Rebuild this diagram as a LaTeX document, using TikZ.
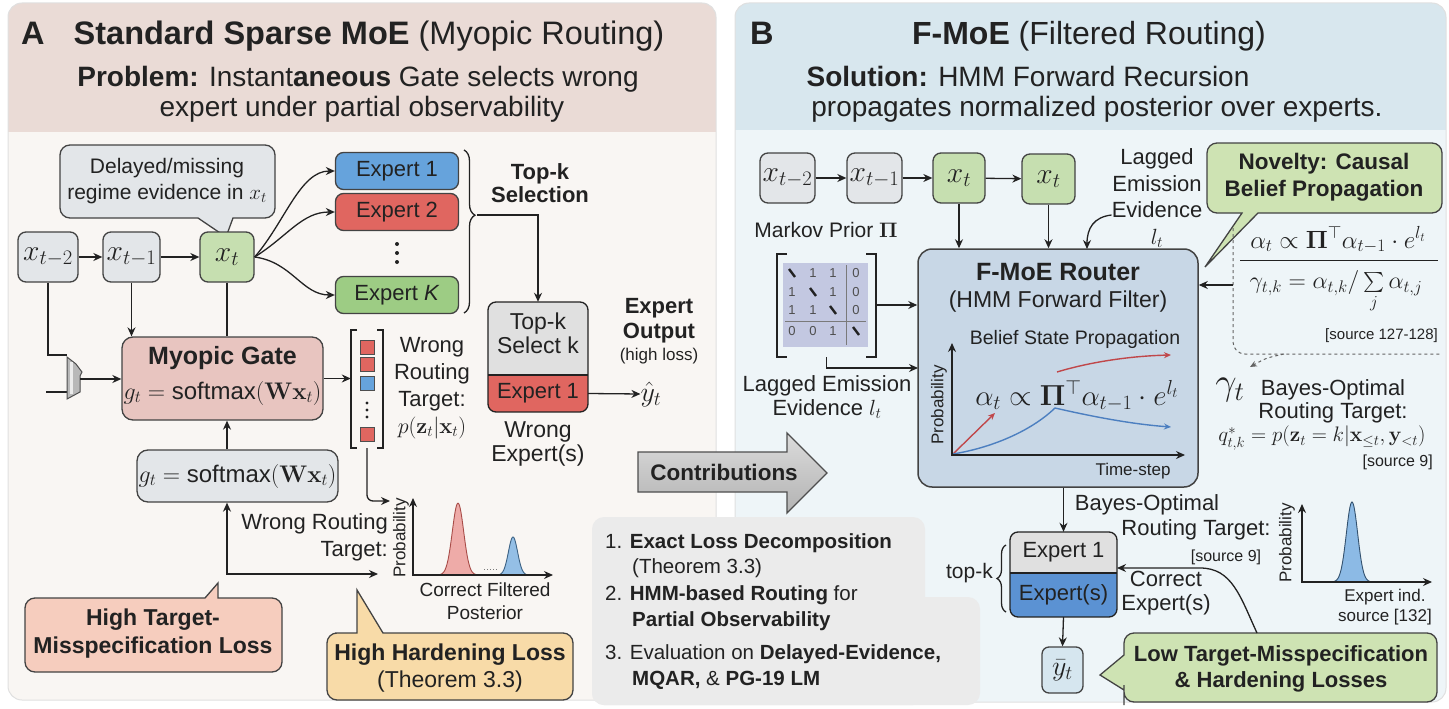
\RequirePackage{fix-cm}
\documentclass[tikz,border=0pt]{standalone}
\usepackage[no-math]{fontspec}
\setmainfont{Liberation Sans}
\usetikzlibrary{arrows.meta,decorations.pathreplacing}

\definecolor{hdrA}{HTML}{EADBD6}
\definecolor{bodyA}{HTML}{F9F6F3}
\definecolor{hdrB}{HTML}{D8E7EE}
\definecolor{bodyB}{HTML}{EEF5F8}
\definecolor{ink}{HTML}{222222}
\definecolor{boxgray}{HTML}{E3E6E9}
\definecolor{xgreen}{HTML}{C6DFB0}
\definecolor{e1blue}{HTML}{66A3DC}
\definecolor{e2red}{HTML}{E06660}
\definecolor{ekgreen}{HTML}{9DCC84}
\definecolor{gatepink}{HTML}{E8C5C0}
\definecolor{peach}{HTML}{F6CDBE}
\definecolor{sand}{HTML}{F8DBA8}
\definecolor{leaf}{HTML}{CEE3B3}
\definecolor{routerfill}{HTML}{C8D7E6}
\definecolor{matfill}{HTML}{C3C8E1}
\definecolor{expblue}{HTML}{5B92D3}
\definecolor{ybarfill}{HTML}{D6E6EF}
\definecolor{listgray}{HTML}{EBEBEB}
\definecolor{plotred}{HTML}{C0474A}
\definecolor{plotblue}{HTML}{4C7FC0}

\newcommand{\fsz}[2]{\fontsize{#1pt}{#2pt}\selectfont}
\newcommand{\bigsum}{\mathop{\raisebox{-6pt}{\scalebox{2.0}{$\sum$}}}\limits}

\tikzset{
  tip/.tip={Stealth[length=9pt,width=8pt]},
  arr/.style={-tip, line width=1.3pt, draw=ink},
  arrboth/.style={tip-tip, line width=1.3pt, draw=ink},
  ln/.style={line width=1.3pt, draw=ink},
  box/.style={draw=ink!85, line width=1.3pt, rounded corners=8pt, inner sep=0pt, align=center, text=ink},
  xbox/.style={box, fill=boxgray, minimum height=50pt, font=\fsz{29.5}{30}},
  xgbox/.style={xbox, fill=xgreen},
  expert/.style={box, minimum width=123pt, minimum height=37pt, font=\fsz{22}{24}},
  txt/.style={inner sep=0pt, align=center, text=ink, font=\fsz{22}{26}},
  callout/.style={draw=ink!85, line width=1.3pt},
  smallarr/.style={-{Stealth[length=7pt,width=6pt]}, line width=1.4pt},
}

\begin{document}
\begin{tikzpicture}[x=1pt,y=-1pt]
\useasboundingbox (0,0) rectangle (1449,709);
\fill[white] (0,0) rectangle (1449,709);

% ---------- panel backgrounds ----------
\begin{scope}
  \clip[rounded corners=14pt] (8,3) rectangle (716,700);
  \fill[bodyA] (8,3) rectangle (716,700);
  \fill[hdrA] (8,3) rectangle (716,132);
\end{scope}
\draw[black!12, line width=1pt, rounded corners=14pt] (8,3) rectangle (716,700);
\begin{scope}
  \clip[rounded corners=14pt] (735,3) rectangle (1446,702);
  \fill[bodyB] (735,3) rectangle (1446,702);
  \fill[hdrB] (735,3) rectangle (1446,130);
\end{scope}
\draw[black!12, line width=1pt, rounded corners=14pt] (735,3) rectangle (1446,702);

% ---------- headers ----------
\node[txt, font={\fsz{32.5}{34}\bfseries}, anchor=base west] (lblA) at (21,45) {A};
\node[txt, font=\fsz{32.5}{34}, anchor=base] (ttlA) at (369,45) {\textbf{Standard Sparse MoE} (Myopic Routing)};
\node[txt, font=\fsz{28}{30}, anchor=base] (subA1) at (358,87) {\textbf{Problem:} Instant\textbf{aneous} Gate selects wrong};
\node[txt, font=\fsz{28}{30}, anchor=base] (subA2) at (362,116) {expert under partial observability};

\node[txt, font={\fsz{32.5}{34}\bfseries}, anchor=base west] (lblB) at (750,45) {B};
\node[txt, font=\fsz{32}{34}, anchor=base] (ttlB) at (1089,45) {\textbf{F-MoE} (Filtered Routing)};
\node[txt, font=\fsz{28}{30}, anchor=base] (subB1) at (1028,86) {\textbf{Solution:} HMM Forward Recursion};
\node[txt, font=\fsz{28}{30}, anchor=base] (subB2) at (1097,116) {propagates normalized posterior over experts.};

% ================= PANEL A =================
% evidence callout
\filldraw[fill=boxgray, callout] (60,180) [rounded corners=10pt] -- (60,145) -- (275,145) -- (275,218) -- (245,218) [sharp corners] -- (233,218) -- (226,237) -- (198,218) -- (185,218) [rounded corners=10pt] -- (60,218) -- cycle;
\node[txt, font=\fsz{21}{26}] (evid) at (167,181) {Delayed/missing\\regime evidence in $x_t$};

% input sequence
\node[xbox, minimum width=60pt] (xa2) at (48,257) {$x_{t-2}$};
\node[xbox, minimum width=57pt] (xa1) at (131.5,257) {$x_{t-1}$};
\node[xgbox, minimum width=54pt] (xa0) at (227,257) {$x_t$};
\draw[arr] (xa2) -- (xa1);
\draw[arr] (xa1) -- (xa0);

% experts
\node[expert, fill=e1blue] (e1) at (397,171) {Expert 1};
\node[expert, fill=e2red] (e2) at (397,212) {Expert 2};
\node[expert, fill=ekgreen] (ek) at (397,295) {Expert \textit{K}};
\foreach \yy in {244,253,262} \fill[ink] (397,\yy) circle (2pt);
\draw[arr] (xa0.east) .. controls (285,222) and (300,171) .. (e1.west);
\draw[arr] (xa0.east) .. controls (288,236) and (302,212) .. (e2.west);
\draw[arr] (xa0.east) .. controls (292,262) and (302,295) .. (ek.west);

% top-k selection
\draw[ln, decorate, decoration={brace, amplitude=11pt, aspect=0.4}] (464,150) -- (464,313);
\coordinate (braceTip) at (477,215);
\node[txt, font={\fsz{22}{23}\bfseries}] (topsel) at (540,183) {Top-k\\Selection};
\begin{scope}
  \clip[rounded corners=8pt] (488,302) rectangle (588,412);
  \fill[black!12] (488,302) rectangle (588,375);
  \fill[e2red] (488,375) rectangle (588,412);
\end{scope}
\draw[ln, rounded corners=8pt] (488,302) rectangle (588,412);
\draw[ln] (488,375) -- (588,375);
\node[inner sep=0pt, minimum width=100pt, minimum height=73pt] (topk) at (538,338.5) {};
\node[txt, font=\fsz{23}{24}] (topkT) at (538,333) {Top-k\\Select k};
\node[txt, minimum width=100pt, minimum height=37pt, font=\fsz{22}{24}] (topkE) at (538,393.5) {Expert 1};
\draw[arr] (braceTip) -| (topk.north);
\node[txt, font=\fsz{23}{24}] (wrongE) at (538,444) {Wrong\\Expert(s)};

\node[txt, font={\fsz{22}{25}\bfseries}] (eout) at (659,321) {Expert\\Output};
\node[txt, font=\fsz{17}{18}] (hloss) at (659,356) {(high loss)};
\node[txt, font=\fsz{28}{28}] (yhat) at (651,394) {$\hat{y}_t$};
\draw[arr] (topkE.east) -- (yhat.west);

% myopic gate
\node[box, fill=gatepink, minimum width=201pt, minimum height=83pt, rounded corners=11pt] (gate) at (222.5,378.5) {};
\node[txt, font={\fsz{25}{26}\bfseries}] (gateT) at (222.5,358) {Myopic Gate};
\node[txt, font=\fsz{24}{26}] (gateF) at (222.5,393) {$g_t = \mbox{softmax}(\mathbf{W}\mathbf{x}_t)$};
\draw[arr] (xa1.south) -- (xa1.south |- gate.north);
\draw[ln] (xa0.south) -- (xa0.south |- gate.north);

% merge element
\coordinate (muxin) at (67,355);
\coordinate (muxlow) at (67,392);
\coordinate (gin) at (46,392);
\coordinate (muxout) at (80,379);
\draw[ln] (xa2.south) |- (muxin);
\draw[ln] (gin) -- (muxlow);
\filldraw[fill=black!28, draw=ink!80, line width=1pt] (67,357) -- (76,364) -- (82,372) -- (80,376) -- (80,392) -- (67,399) -- cycle;
\fill[black!8] (70,362) rectangle (73,394);
\draw[arr] (muxout) -- (muxout -| gate.west);

% routing vector
\node[inner sep=0pt, minimum width=32pt, minimum height=118pt] (vec) at (367,389) {};
\draw[ln] (357,330) -- (351,330) -- (351,448) -- (357,448);
\draw[ln] (377,330) -- (383,330) -- (383,448) -- (377,448);
\foreach \yy/\cc in {347/e2red,364/e2red,383/e1blue,434/e2red}
  \filldraw[fill=\cc, draw=ink!80, line width=0.8pt] (360,{\yy-7}) rectangle (374,{\yy+7});
\foreach \yy in {403,410,417} \fill[ink] (367,\yy) circle (1.6pt);
\draw[arr] (gate.east) -- (gate.east -| vec.west);
\node[txt, font=\fsz{22}{27}] (wrt) at (432,388) {Wrong\\Routing\\Target:\\$p(\mathbf{z}_t|\mathbf{x}_t)$};

% softmax box and lower loop
\node[box, fill=boxgray, minimum width=201pt, minimum height=52pt, rounded corners=11pt, font=\fsz{24}{26}] (soft) at (237.5,476) {$g_t = \mbox{softmax}(\mathbf{W}\mathbf{x}_t)$};
\draw[arr] (soft.north -| xa0.south) -- (gate.south -| xa0.south);
\coordinate (plotAin2) at (378,574);
\draw[arrboth] (soft.south -| xa0.south) |- (plotAin2);
\node[txt, font=\fsz{22}{27}, align=right, anchor=east] (wrt2) at (388,537) {Wrong Routing\\Target:};

\coordinate (plotAin) at (390,501);
\draw[arr, rounded corners=6pt] (vec.south) |- (plotAin);

% posterior plot A
\filldraw[fill=e2red!55, draw=e2red!75!black, line width=0.9pt] plot[domain=432:484, samples=60] (\x,{575-72*exp(-1*((\x-458)/8)*((\x-458)/8))}) -- cycle;
\filldraw[fill=e1blue!70, draw=e1blue!60!black, line width=0.9pt] plot[domain=496:530, samples=50] (\x,{575-38*exp(-1*((\x-513)/6.5)*((\x-513)/6.5))}) -- cycle;
\draw[dotted, ink!60, line width=1pt] (484,569) -- (498,569);
\draw[arrboth, line width=1.2pt] (413,498) -- (413,575) -- (553,575);
\node[txt, rotate=90, font=\fsz{17}{18}] (probA) at (401,538) {Probability};
\node[txt, font=\fsz{19}{23}] (postA) at (485,601) {Correct Filtered\\Posterior};

% loss callouts
\filldraw[fill=peach, callout] (25,635) [rounded corners=10pt] -- (25,598) -- (190,598) [sharp corners] -- (205,598) -- (218,583) -- (218,598) -- (230,598) [rounded corners=10pt] -- (282,598) -- (282,672) -- (25,672) -- cycle;
\node[txt, font={\fsz{23}{28}\bfseries}] (hmis) at (153,634) {High Target-\\Misspecification Loss};

\filldraw[fill=sand, callout] (327,665) [rounded corners=10pt] -- (327,633) -- (345,633) [sharp corners] -- (357,633) -- (357,590) -- (383,633) -- (395,633) [rounded corners=10pt] -- (573,633) -- (573,700) -- (327,700) -- cycle;
\node[txt, font=\fsz{23}{27}] (hhard) at (450,668) {\textbf{High Hardening Loss}\\(Theorem 3.3)};

% ================= contributions =================
\fill[listgray, rounded corners=12pt] (592,517) rectangle (925,705);
\fill[listgray, rounded corners=12pt] (592,597) rectangle (980,705);
\node[txt, anchor=west, font=\fsz{20.5}{22}] (c1) at (605,543) {1. \textbf{Exact Loss Decomposition}};
\node[txt, anchor=west, font=\fsz{20.5}{22}] (c1b) at (632,568) {(Theorem 3.3)};
\node[txt, anchor=west, font=\fsz{20.5}{22}] (c2) at (605,595) {2. \textbf{HMM-based Routing} for};
\node[txt, anchor=west, font=\fsz{20.5}{22}] (c2b) at (632,621) {\textbf{Partial Observability}};
\node[txt, anchor=west, font=\fsz{20.5}{22}] (c3) at (605,654) {3. Evaluation on \textbf{Delayed-Evidence,}};
\node[txt, anchor=west, font=\fsz{20.5}{22}] (c3b) at (632,680) {\textbf{MQAR,} \& \textbf{PG-19 LM}};

\shadedraw[top color=black!14, bottom color=black!30, draw=ink!80, line width=1.3pt] (638,452) -- (787,452) -- (787,433) -- (827,473) -- (787,513) -- (787,492) -- (638,492) -- cycle;
\node[txt, font={\fsz{22.5}{24}\bfseries}] (contrib) at (724,472) {Contributions};

% ================= PANEL B =================
\node[xbox, minimum width=55pt] (xb2) at (787.5,178) {$x_{t-2}$};
\node[xbox, minimum width=55pt] (xb1) at (874.5,178) {$x_{t-1}$};
\node[xgbox, minimum width=52pt] (xb0) at (959,178) {$x_t$};
\node[xgbox, minimum width=53pt] (xbn) at (1048.5,179) {$x_t$};
\draw[arr] (xb2) -- (xb1);
\draw[arr] (xb1) -- (xb0);
\draw[arr] (xb0) -- (xbn);

% router
\node[box, fill=routerfill, minimum width=280pt, minimum height=238pt, rounded corners=14pt, line width=1.5pt] (router) at (1058,368) {};
\draw[arr] (xb0.south) -- (xb0.south |- router.north);
\draw[arr] (xbn.south) -- (xbn.south |- router.north);

\node[txt, font=\fsz{22}{26.5}] (lagB) at (1157,198) {Lagged\\Emission\\Evidence\\$l_t$};
\coordinate (lagEnd) at (1087,249);
\draw[arr] ([yshift=-17pt]lagB.west) .. controls (1094,217) and (1087,228) .. (lagEnd);

% Markov prior matrix
\node[txt, font=\fsz{21}{22}] (markov) at (826,230) {Markov Prior $\mathbf{\Pi}$};
\fill[matfill] (783,263) rectangle (868,347);
\draw[ln] (787,254) -- (777,254) -- (777,357) -- (787,357);
\draw[ln] (866,254) -- (876,254) -- (876,357) -- (866,357);
\draw[ink!60, line width=0.8pt] (846,265) -- (846,345);
\draw[ink!60, line width=0.8pt] (785,321) -- (866,321);
\foreach \c/\r/\v in {813/273/1, 833/273/1, 856/273/0, 792/292/1, 833/292/1, 856/292/0, 792/310/1, 813/310/1, 856/310/0, 792/331/0, 813/331/0, 833/331/1}
  \node[inner sep=0pt, font=\fsz{13}{13}, text=ink!80] (m-\c-\r) at (\c,\r) {\v};
\foreach \c/\r in {792/273, 813/292, 833/310, 856/331}
  \draw[line width=2.4pt, ink] ({\c-3},{\r-4}) -- ({\c+3},{\r+4});
\node[inner sep=0pt, minimum width=100pt, minimum height=104pt] (matB) at (826.5,305) {};
\draw[arr] (matB.east) -- (matB.east -| router.west);
\coordinate (lagInB) at (918,368);
\draw[arr] (matB.south) |- (lagInB);
\node[txt, font=\fsz{22}{24}] (lagB2) at (827,397) {Lagged Emission\\Evidence $l_t$};

% router contents
\node[txt, font={\fsz{25}{26}\bfseries}] (rtT) at (1058,272) {F-MoE Router};
\node[txt, font=\fsz{23}{24}] (rtS) at (1058,302) {(HMM Forward Filter)};
\node[txt, font=\fsz{19.5}{20}] (rtB) at (1075,339) {Belief State Propagation};
\draw[smallarr, plotred] (953,454) -- (995,413);
\draw[smallarr, plotred] (1057,372) .. controls (1090,362) and (1130,356) .. (1171,355);
\draw[smallarr, plotblue] (953,454) .. controls (990,448) and (1030,432) .. (1055,408) .. controls (1090,416) and (1130,424) .. (1171,427);
\draw[arrboth, line width=1.2pt] (952,343) -- (952,455) -- (1185,455);
\node[txt, font=\fsz{29}{30}] (eqR) at (1077,396) {$\alpha_t \propto \mathbf{\Pi}^{\top}\alpha_{t-1}\cdot e^{l_t}$};
\node[txt, rotate=90, font=\fsz{17}{18}] (probB) at (939,405) {Probability};
\node[txt, font=\fsz{17}{18}] (tsB) at (1133,471) {Time-step};

% novelty callout and filter equations
\filldraw[fill=leaf, callout] (1207,178) [rounded corners=10pt] -- (1207,143) -- (1442,143) -- (1442,213) -- (1270,213) [sharp corners] -- (1258,213) -- (1205,267) -- (1242,213) -- (1230,213) [rounded corners=10pt] -- (1207,213) -- cycle;
\node[txt, font={\fsz{22.5}{27}\bfseries}] (nov) at (1324,177) {Novelty: Causal\\Belief Propagation};
\draw[dashed, ink!70, line width=1pt, rounded corners=12pt] (1233,228) -- (1233,354) -- (1440,354);
\node[txt, font=\fsz{25}{26}] (eqA) at (1338,240) {$\alpha_t \propto \mathbf{\Pi}^{\top}\alpha_{t-1}\cdot e^{l_t}$};
\draw[ink, line width=1pt] (1240,260) -- (1438,260);
\node[txt, font=\fsz{24}{26}] (eqG) at (1336,291) {$\gamma_{t,k} = \alpha_{t,k}/\bigsum_{j}\alpha_{t,j}$};
\node[txt, anchor=east, font=\fsz{15}{16}] (src1) at (1438,336) {[source 127-128]};
\coordinate (dashL) at (1233,285);
\draw[arr] (dashL) -- (dashL -| router.east);

\node[txt, font=\fsz{38}{40}] (gammaT) at (1230,390) {$\gamma_t$};
\coordinate (dashArr) at (1284,354);
\draw[dashed, ink!70, line width=1pt, -{Stealth[length=7pt,width=6pt]}] (dashArr) .. controls (1266,358) .. (1250,367);
\node[txt, font=\fsz{22}{23}] (bayes1) at (1333,401) {Bayes-Optimal\\Routing Target:};
\node[txt, font=\fsz{21}{22}] (qstar) at (1322,438) {$q^{*}_{t,k} = p(\mathbf{z}_t = k|\mathbf{x}_{\le t},\mathbf{y}_{<t})$};
\node[txt, anchor=east, font=\fsz{16}{17}] (src2) at (1433,462) {[source 9]};

% expert selection
\begin{scope}
  \clip[rounded corners=8pt] (1010,532) rectangle (1117,617);
  \fill[black!12] (1010,532) rectangle (1117,573);
  \fill[expblue] (1010,573) rectangle (1117,617);
\end{scope}
\draw[ln, rounded corners=8pt] (1010,532) rectangle (1117,617);
\draw[ln] (1010,573) -- (1117,573);
\node[txt, minimum width=107pt, minimum height=41pt, font=\fsz{22}{24}] (ex1B) at (1063.5,552.5) {Expert 1};
\node[txt, minimum width=107pt, minimum height=44pt, font=\fsz{22}{24}] (exsB) at (1063.5,595) {Expert(s)};
\draw[arr] (router.south -| ex1B.north) -- (ex1B.north);
\node[txt, font=\fsz{22}{24}] (bo1) at (1147,505) {Bayes-Optimal};
\node[txt, font=\fsz{22}{24}] (bo2) at (1196,530) {Routing Target:};
\node[txt, font=\fsz{16}{17}] (bo3) at (1226,557) {[source 9]};
\draw[ln, decorate, decoration={brace, amplitude=9pt}] (1006,612) -- (1006,545);
\node[txt, anchor=east, font=\fsz{21}{22}] (topkB) at (993,573) {top-k};

\node[box, fill=ybarfill, minimum width=41pt, minimum height=46pt, rounded corners=7pt, font=\fsz{28}{28}] (ybar) at (1062.5,670) {$\bar{y}_t$};
\draw[arr] (exsB.south) -- (ybar.north);
\node[txt, font=\fsz{22}{24}] (corr) at (1166,593) {Correct\\Expert(s)};

% posterior plot B
\filldraw[fill=e1blue!75, draw=e1blue!50!black, line width=0.9pt] plot[domain=1328:1376, samples=60] (\x,{582-80*exp(-1*((\x-1352)/8)*((\x-1352)/8))}) -- cycle;
\draw[arrboth, line width=1.2pt] (1302,504) -- (1302,582) -- (1432,582);
\node[txt, rotate=90, font=\fsz{17}{18}] (probC) at (1287,543) {Probability};
\node[txt, font=\fsz{17}{20}] (expind) at (1385,607) {Expert ind.\\source [132]};

% low-loss callout
\filldraw[fill=leaf, callout] (1200,633) [rounded corners=10pt] -- (1437,633) -- (1437,702) -- (1124,702) -- (1124,695) [sharp corners] -- (1124,690) -- (1100,675) -- (1124,655) -- (1124,648) [rounded corners=10pt] -- (1124,633) -- cycle;
\node[txt, font={\fsz{22}{26}\bfseries}] (lowl) at (1281,669) {Low Target-Misspecification\\\& Hardening Losses};
\coordinate (lowTop) at (1257,633);
\coordinate (expBin) at (1117,568);
\draw[arr] (lowTop) .. controls (1240,596) and (1232,568) .. (1200,568) -- (expBin);

\end{tikzpicture}
\end{document}
